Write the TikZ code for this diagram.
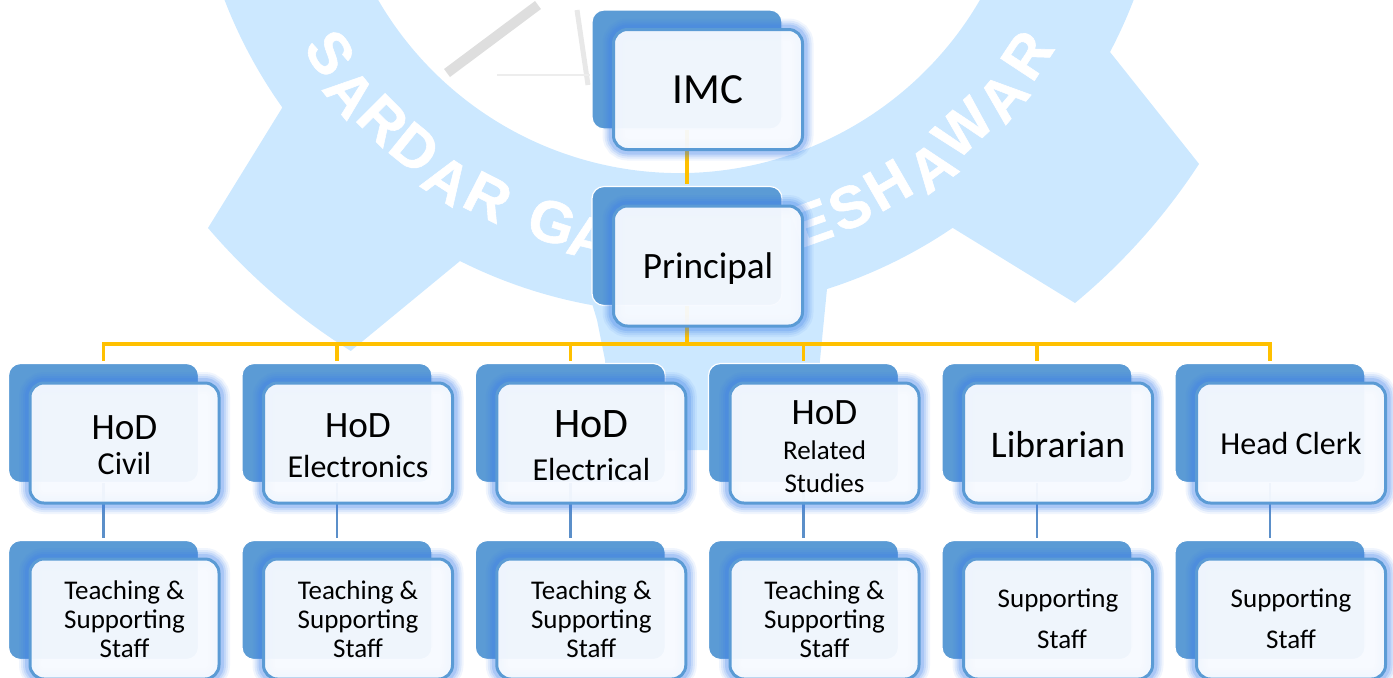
\documentclass[tikz,border=0pt]{standalone}
\usepackage{fontspec}
\setmainfont{Carlito}
\newfontfamily\markfont[BoldFeatures={FakeBold=1}]{Liberation Sans}
\newcommand{\fs}[1]{\fontsize{#1}{#1}\selectfont}
\newcommand{\topgap}[1]{\rule{0pt}{#1pt}}
\definecolor{gearblue}{HTML}{CCE8FF}
\definecolor{backblue}{HTML}{5B9BD5}
\definecolor{glowblue}{HTML}{3D7FEA}
\definecolor{faceblue}{HTML}{F7FAFF}
\definecolor{lineblue}{HTML}{5B8FC9}
\definecolor{busgold}{HTML}{FFC000}
\tikzset{
  back/.style={rectangle, rounded corners=6pt, draw=white, line width=.6pt, fill=backblue, minimum width=95pt, minimum height=59.5pt, inner sep=0pt},
  card/.style={rectangle, rounded corners=7pt, draw=backblue, line width=1.5pt, fill=faceblue, fill opacity=.95, draw opacity=1, text opacity=1, minimum width=94.5pt, minimum height=60pt, inner sep=0pt, align=center, font=\fs{13.5},
    preaction={draw=glowblue, line width=11pt, draw opacity=.08, fill opacity=0},
    preaction={draw=glowblue, line width=9pt, draw opacity=.11, fill opacity=0},
    preaction={draw=glowblue, line width=7pt, draw opacity=.14, fill opacity=0},
    preaction={draw=glowblue, line width=5pt, draw opacity=.20, fill opacity=0}},
  letter/.style={text=white, font=\markfont\bfseries\fontsize{29.5}{29.5}\selectfont, inner sep=0pt},
  bus/.style={draw=busgold, line width=1.8pt, shorten >=1.2pt},
  drop/.style={draw=lineblue, line width=1.3pt, shorten >=1.2pt}
}
\begin{document}
\begin{tikzpicture}[x=.5pt, y=-.5pt]
	\useasboundingbox (0,0) rectangle (1393,677);
	\clip (0,0) rectangle (1393,677);

	% watermark
	\coordinate (gearc) at (679,-175);
	\fill[gearblue] ([shift={(195:243.5pt)}]gearc) arc[start angle=195, end angle=215.46, radius=243.5pt]
		-- (208,228) arc[start angle=220.55, end angle=238, radius=310.5pt]
		-- (460,261) arc[start angle=243.3, end angle=259.8, radius=243.5pt]
		-- (597,320) -- (605,360) -- (612,450) -- (818,450) -- (820,360)
		-- (827,289) arc[start angle=287.7, end angle=304.2, radius=243.5pt]
		-- (1075,303) arc[start angle=309.64, end angle=326.9, radius=310.5pt]
		-- (1110,52) arc[start angle=332.2, end angle=345, radius=243.5pt]
		-- ([shift={(345:174pt)}]gearc) arc[start angle=345, end angle=195, radius=174pt] -- cycle;
	\draw[black!13, line width=5pt] (447,73) -- (538,5);
	\draw[black!9, line width=2.5pt] (577,10) -- (588,85);
	\draw[black!7, line width=1.2pt] (497,75) -- (590,75);
	\node[letter, rotate=-56.8] (m1) at (330,53) {S};
	\node[letter, rotate=-50.8] (m2) at (350,93) {A};
	\node[letter, rotate=-45] (m3) at (383,120) {R};
	\node[letter, rotate=-39] (m4) at (415,148) {D};
	\node[letter, rotate=-33] (m5) at (447,180) {A};
	\node[letter, rotate=-27] (m6) at (488,197) {R};
	\node[letter, rotate=-17.7] (m7) at (552,222) {G};
	\node[letter, rotate=-13.5] (m8) at (590,238) {A};
	\node[letter, rotate=19.6] (m9) at (811,223) {E};
	\node[letter, rotate=24] (m10) at (850,207) {S};
	\node[letter, rotate=30] (m11) at (888,185) {H};
	\node[letter, rotate=36.5] (m12) at (932,167) {A};
	\node[letter, rotate=43] (m13) at (963,128) {W};
	\node[letter, rotate=50] (m14) at (1003,97) {A};
	\node[letter, rotate=56.6] (m15) at (1027,55) {R};

	% back plates
	\node[back] (imcb) at (687,69.5) {};
	\node[back] (prinb) at (687,246) {};
	\node[back] (civilb) at (103.5,423) {};
	\node[back] (etronb) at (337,423) {};
	\node[back] (etricb) at (570.3,423) {};
	\node[back] (relb) at (803.5,423) {};
	\node[back] (libb) at (1037,423) {};
	\node[back] (clerkb) at (1270,423) {};
	\node[back] (civiltb) at (103.5,600) {};
	\node[back] (etrontb) at (337,600) {};
	\node[back] (etrictb) at (570.3,600) {};
	\node[back] (reltb) at (803.5,600) {};
	\node[back] (libtb) at (1037,600) {};
	\node[back] (clerktb) at (1270,600) {};

	% connectors
	\coordinate (busc) at (687,344);
	\draw[bus] (imcb) -- (prinb);
	\draw[bus, shorten >=0pt] (prinb) -- (busc);
	\draw[bus] (busc) -| (civilb);
	\draw[bus] (busc) -| (etronb);
	\draw[bus] (busc) -| (etricb);
	\draw[bus] (busc) -| (relb);
	\draw[bus] (busc) -| (libb);
	\draw[bus] (busc) -| (clerkb);
	\draw[drop] (civilb) -- (civiltb);
	\draw[drop] (etronb) -- (etrontb);
	\draw[drop] (etricb) -- (etrictb);
	\draw[drop] (relb) -- (reltb);
	\draw[drop] (libb) -- (libtb);
	\draw[drop] (clerkb) -- (clerktb);

	% front cards
	\node[card] (imc) at (708,89.5) {\fs{21.5}IMC};
	\node[card] (prin) at (708,266) {\fs{18.6}\topgap{15.5}Principal};
	\node[card] (civil) at (124.5,443) {\fs{18.6}\topgap{14}HoD\\[4pt]\fs{16}Civil};
	\node[card] (etron) at (358,443) {\fs{18.6}\topgap{15}HoD\\[6.5pt]\fs{16}Electronics};
	\node[card] (etric) at (591.3,443) {\fs{21}\topgap{16.5}HoD\\[8pt]\fs{16}Electrical};
	\node[card] (rel) at (824.5,443) {\fs{18.6}\topgap{15.5}HoD\\[4pt]Related\\[3pt]Studies};
	\node[card] (lib) at (1058,443) {\fs{18.8}\topgap{14.8}Librarian};
	\node[card] (clerk) at (1291,443) {\fs{16}Head Clerk};
	\node[card] (civilt) at (124.5,619) {Teaching \&\\[1pt]Supporting\\[1pt]Staff};
	\node[card] (etront) at (358,619) {Teaching \&\\[1pt]Supporting\\[1pt]Staff};
	\node[card] (etrict) at (591.3,619) {Teaching \&\\[1pt]Supporting\\[1pt]Staff};
	\node[card] (relt) at (824.5,619) {Teaching \&\\[1pt]Supporting\\[1pt]Staff};
	\node[card] (libt) at (1058,619) {Supporting\\[7pt]\hspace*{4pt}Staff};
	\node[card] (clerkt) at (1291,619) {Supporting\\[7pt]Staff};
\end{tikzpicture}
\end{document}
